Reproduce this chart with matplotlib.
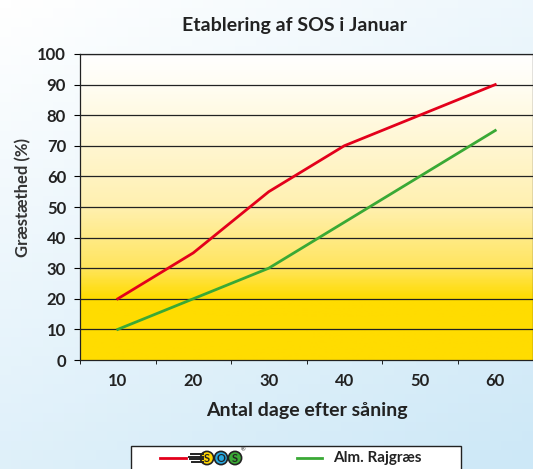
import numpy as np
import matplotlib.pyplot as plt
from matplotlib.colors import LinearSegmentedColormap
from matplotlib.patches import Rectangle, Circle
from matplotlib.lines import Line2D

days = [10, 20, 30, 40, 50, 60]
sos = [20, 35, 55, 70, 80, 90]
rajgraes = [10, 20, 30, 45, 60, 75]
yticks = list(range(0, 101, 10))

plt.rcParams['font.family'] = ['Lato', 'DejaVu Sans']
fig = plt.figure(figsize=(5.33, 4.69), dpi=100)
H = 4.69


def px(x, y):
    # pixel position (from top-left) -> inches for dpi_scale_trans
    return x / 100, H - y / 100


# figure background: pale blue gradient
bg = fig.add_axes([0, 0, 1, 1], zorder=-10)
bg_cmap = LinearSegmentedColormap.from_list("bg", ["#ffffff", "#cde8f7"])
gx, gy = np.meshgrid(np.linspace(0, 1, 50), np.linspace(0, 1, 50))
bg.imshow(0.65 * gy + 0.35 * gx, cmap=bg_cmap, extent=[0, 1, 0, 1], aspect="auto", origin="upper")
bg.set_axis_off()

ax = fig.add_axes([80 / 533, 1 - 360 / 469, 453 / 533, 306 / 469])
x = np.arange(len(days))
ax.set_xlim(-0.5, len(days) - 0.5)
ax.set_ylim(0, 100)

# plot area: white at top to yellow at bottom
pa_cmap = LinearSegmentedColormap.from_list(
    "pa", [(0, "#ffffff"), (0.1, "#fffdf3"), (0.5, "#fff0b0"), (0.7, "#ffe55e"),
           (0.8, "#ffdc00"), (1, "#ffdc00")])
grad = np.linspace(0, 1, 300).reshape(-1, 1)
ax.imshow(grad, cmap=pa_cmap, extent=[-0.5, len(days) - 0.5, 0, 100], aspect="auto", origin="upper", zorder=0)

for v in yticks[1:]:
    ax.axhline(v, color="#222222", lw=0.9, zorder=1)

ax.plot(x, sos, color="#e3001b", lw=2, zorder=3)
ax.plot(x, rajgraes, color="#3aa935", lw=2, zorder=3)

ax.set_xticks(x)
ax.set_xticklabels([str(d) for d in days], fontsize=12, fontweight="bold", color="#222222")
ax.set_xticks(np.arange(-0.5, len(days), 1), minor=True)
ax.tick_params(axis="x", which="major", length=0, pad=9)
ax.tick_params(axis="x", which="minor", length=3)
ax.set_yticks(yticks)
ax.set_yticklabels([str(v) for v in yticks], fontsize=12, fontweight="bold", color="#222222")
ax.tick_params(axis="y", length=4, pad=6)
for s in ax.spines.values():
    s.set_color("#222222")
    s.set_linewidth(0.9)

fig.text(307 / 533, 1 - 410 / 469, "Antal dage efter såning", ha="center", va="center",
         fontsize=14, fontweight="bold", color="#222222")
fig.text(23 / 533, 1 - 197 / 469, "Græstæthed (%)", ha="center", va="center", rotation=90,
         fontsize=12, fontweight="bold", color="#333333")
fig.text(294 / 533, 1 - 25 / 469, "Etablering af SOS i Januar", ha="center", va="center",
         fontsize=14, fontweight="bold", color="#222222")

# legend box (runs off the bottom edge)
t = fig.dpi_scale_trans
fig.patches.append(Rectangle(px(131, 480), 3.30, 0.34, transform=t, facecolor="white",
                             edgecolor="#222222", lw=1.0))
ly = 458
fig.lines.append(Line2D([px(160, ly)[0], px(186, ly)[0]], [px(0, ly)[1]] * 2, transform=t,
                        color="#e3001b", lw=2))
fig.lines.append(Line2D([px(297, ly)[0], px(322, ly)[0]], [px(0, ly)[1]] * 2, transform=t,
                        color="#3aa935", lw=2))
fig.text(333 / 533, 1 - ly / 469, "Alm. Rajgræs", ha="left", va="center",
         fontsize=11, fontweight="bold", color="#222222")

# SOS logo: speed lines + three letter discs
for dy, x0 in zip([-4, -1.5, 1, 3.5], [191, 189, 190, 192]):
    fig.lines.append(Line2D([px(x0, 0)[0], px(203, 0)[0]], [px(0, ly + dy)[1]] * 2, transform=t,
                            color="#222222", lw=1.4))
logo = [("S", "#ffd500", 207), ("O", "#29a8e0", 221), ("S", "#3aa935", 235)]
for letter, col, cx in logo:
    fig.patches.append(Circle(px(cx, ly), 0.066, transform=t, facecolor=col,
                              edgecolor="#222222", lw=1.2))
    fig.text(cx / 533, 1 - ly / 469, letter, ha="center", va="center", fontsize=8,
             fontweight="bold", color="#222222")
fig.text(243 / 533, 1 - 450 / 469, "®", ha="center", va="center", fontsize=4, color="#222222")

fig.savefig("out.png", dpi=100)
